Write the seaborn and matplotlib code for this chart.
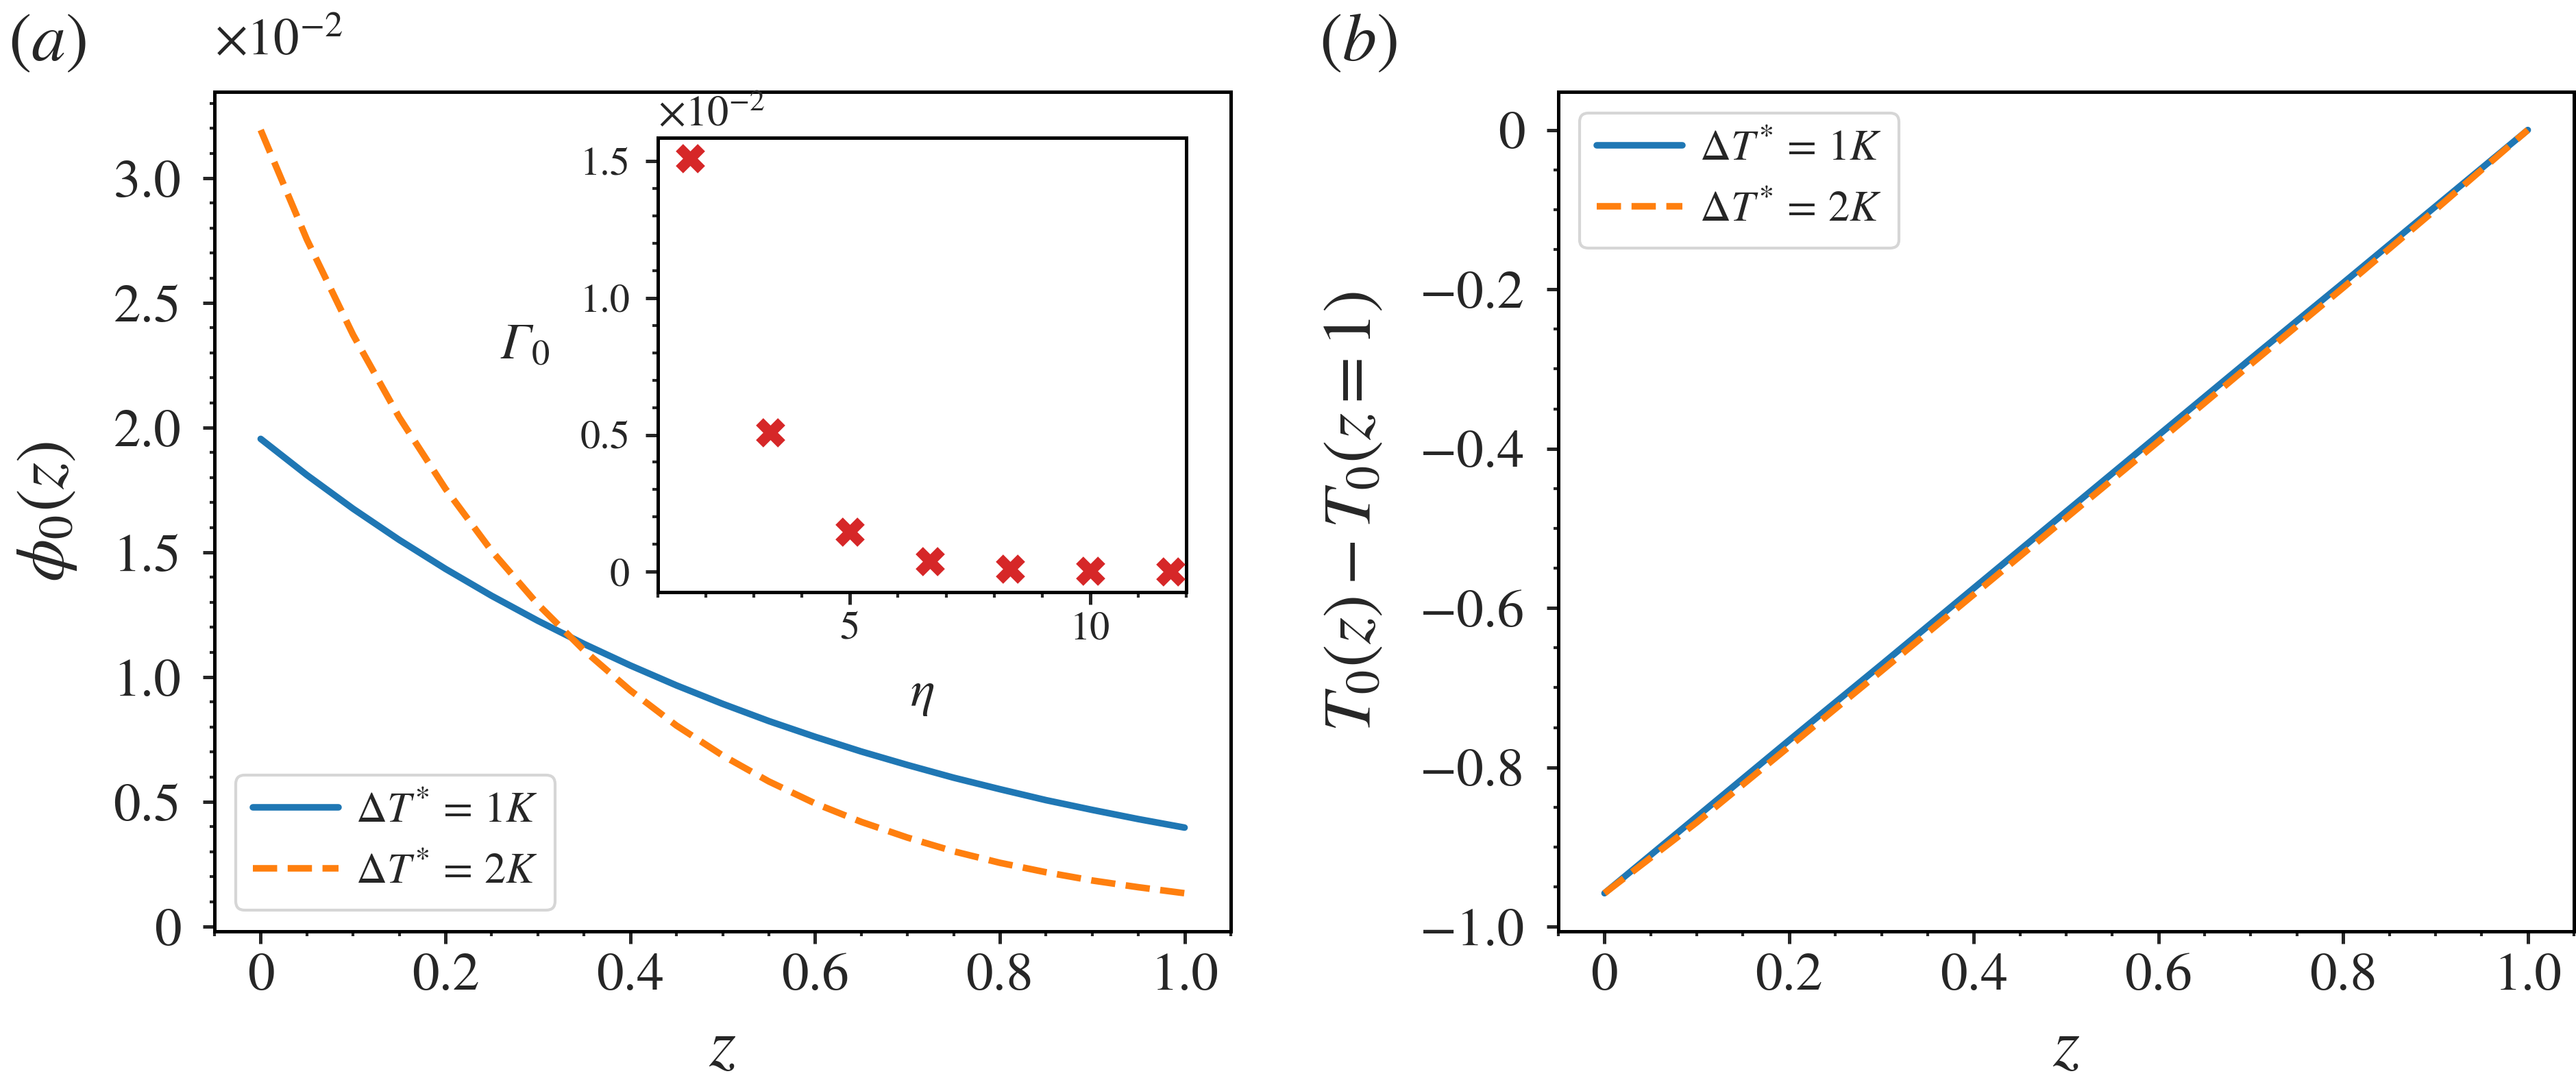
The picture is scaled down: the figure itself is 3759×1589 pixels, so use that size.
import matplotlib
matplotlib.use('Agg')
import matplotlib.pyplot as plt
from matplotlib.ticker import MultipleLocator, FuncFormatter
import seaborn as sns

sns.set_style('ticks')
plt.rcParams['font.family'] = ['STIXGeneral', 'Liberation Serif', 'DejaVu Serif']
plt.rcParams['mathtext.fontset'] = 'stix'
plt.rcParams['axes.linewidth'] = 1.2
plt.rcParams['axes.edgecolor'] = 'black'

# ---- data ----
# panel (a): phi_0(z), values in units of 1e-2
z_phi = [0.00, 0.05, 0.10, 0.15, 0.20, 0.25, 0.30, 0.35, 0.40, 0.45, 0.50,
         0.55, 0.60, 0.65, 0.70, 0.75, 0.80, 0.85, 0.90, 0.95, 1.00]
phi_dT1 = [1.955, 1.810, 1.675, 1.550, 1.434, 1.326, 1.226, 1.133, 1.047, 0.967, 0.893,
           0.824, 0.761, 0.702, 0.648, 0.597, 0.551, 0.507, 0.468, 0.431, 0.397]
phi_dT2 = [3.193, 2.754, 2.372, 2.041, 1.755, 1.506, 1.292, 1.107, 0.947, 0.806, 0.686,
           0.582, 0.494, 0.420, 0.357, 0.302, 0.256, 0.218, 0.185, 0.158, 0.134]

# inset: Gamma_0 vs eta, units of 1e-2
eta = [1.667, 3.333, 5.0, 6.667, 8.333, 10.0, 11.667]
gamma0 = [1.51, 0.51, 0.145, 0.037, 0.010, 0.003, 0.001]

# panel (b): T_0(z) - T_0(z=1)
z_T = [0.0, 0.1, 0.2, 0.3, 0.4, 0.5, 0.6, 0.7, 0.8, 0.9, 1.0]
T_dT1 = [-0.958, -0.862, -0.766, -0.671, -0.575, -0.479, -0.383, -0.287, -0.192, -0.096, 0.0]
T_dT2 = [-0.958, -0.869, -0.774, -0.679, -0.583, -0.487, -0.391, -0.294, -0.198, -0.100, 0.0]

labels = [r'$\Delta T^{*}\,=\,1K$', r'$\Delta T^{*}\,=\,2K$']
c_blue, c_orange, c_red = '#1f77b4', '#ff7f0e', '#d62728'


def fmt(v, pos):
    if abs(v) < 1e-9:
        return '0'
    return f'{v:.1f}'.replace('-', '\u2212')


def style_axis(ax, xmaj, xmin, ymaj, ymin, lsize, majlen=4.2, minlen=1.7, ypad=7.5, xpad=3.5):
    ax.xaxis.set_major_locator(MultipleLocator(xmaj))
    ax.xaxis.set_minor_locator(MultipleLocator(xmin))
    ax.yaxis.set_major_locator(MultipleLocator(ymaj))
    ax.yaxis.set_minor_locator(MultipleLocator(ymin))
    ax.tick_params(which='major', direction='out', length=majlen, width=1.2,
                   labelsize=lsize, top=False, right=False)
    ax.tick_params(which='minor', direction='out', length=minlen, width=1.0,
                   top=False, right=False)
    ax.tick_params(axis='y', which='major', pad=ypad)
    ax.tick_params(axis='x', which='major', pad=xpad)
    for s in ax.spines.values():
        s.set_visible(True)
        s.set_linewidth(1.2)
        s.set_color('black')


W, H = 3759, 1589
fig = plt.figure(figsize=(W / 300, H / 300), dpi=300)

ax1 = fig.add_axes([313 / W, 1 - 1359 / H, 1483 / W, 1225 / H])
ax2 = fig.add_axes([2274 / W, 1 - 1359 / H, 1482 / W, 1225 / H])
axin = fig.add_axes([960 / W, 1 - 864 / H, 771 / W, 663 / H])

# ---- panel (a) ----
sns.lineplot(x=z_phi, y=phi_dT1, ax=ax1, color=c_blue, lw=2.3, label=labels[0])
sns.lineplot(x=z_phi, y=phi_dT2, ax=ax1, color=c_orange, lw=2.3, label=labels[1],
             linestyle='--', dashes=(3.3, 1.45))
style_axis(ax1, 0.2, 0.05, 0.5, 0.1, 19)
ax1.xaxis.set_major_formatter(FuncFormatter(fmt))
ax1.yaxis.set_major_formatter(FuncFormatter(fmt))
ax1.set_xlabel(r'$z$', fontsize=24, labelpad=6)
ax1.set_ylabel(r'$\phi_0(z)$', fontsize=24, labelpad=12)
ax1.text(0.0, 1.03, r'$\times10^{-2}$', transform=ax1.transAxes,
         fontsize=18, ha='left', va='bottom')
ax1.legend(loc='lower left', fontsize=15, frameon=True, framealpha=0.8,
           edgecolor='0.8', handlelength=2.0, handletextpad=0.4)

# ---- inset ----
sns.scatterplot(x=eta, y=gamma0, ax=axin, color=c_red, marker='X', s=105,
                linewidth=0, zorder=3)
axin.set_xlim(1, 12)
style_axis(axin, 5, 1, 0.5, 0.1, 14, majlen=4.3, minlen=2.0, ypad=5.5, xpad=2.5)
axin.yaxis.set_major_formatter(FuncFormatter(fmt))
axin.xaxis.set_major_formatter(FuncFormatter(lambda v, p: f'{v:g}'))
axin.set_xlabel(r'$\eta$', fontsize=18, labelpad=8)
axin.set_ylabel('\u0393$_0$', fontsize=18, fontstyle='italic', rotation=0,
                ha='center', va='center')
axin.yaxis.set_label_coords(-0.252, 0.541)
axin.text(0.0, 1.005, r'$\times10^{-2}$', transform=axin.transAxes,
          fontsize=15, ha='left', va='bottom')

# ---- panel (b) ----
sns.lineplot(x=z_T, y=T_dT1, ax=ax2, color=c_blue, lw=2.3, label=labels[0])
sns.lineplot(x=z_T, y=T_dT2, ax=ax2, color=c_orange, lw=2.3, label=labels[1],
             linestyle='--', dashes=(3.3, 1.45))
style_axis(ax2, 0.2, 0.05, 0.2, 0.05, 19)
ax2.xaxis.set_major_formatter(FuncFormatter(fmt))
ax2.yaxis.set_major_formatter(FuncFormatter(fmt))
ax2.set_xlabel(r'$z$', fontsize=24, labelpad=6)
ax2.set_ylabel(r'$T_0(z)-T_0(z=1)$', fontsize=24, labelpad=12)
ax2.legend(loc='upper left', fontsize=15, frameon=True, framealpha=0.8,
           edgecolor='0.8', handlelength=2.0, handletextpad=0.4)

fig.text(12 / W, 1 - 20 / H, r'$(a)$', fontsize=24, ha='left', va='top')
fig.text(1925 / W, 1 - 20 / H, r'$(b)$', fontsize=24, ha='left', va='top')

fig.savefig('out.png', dpi=300, facecolor='white')
